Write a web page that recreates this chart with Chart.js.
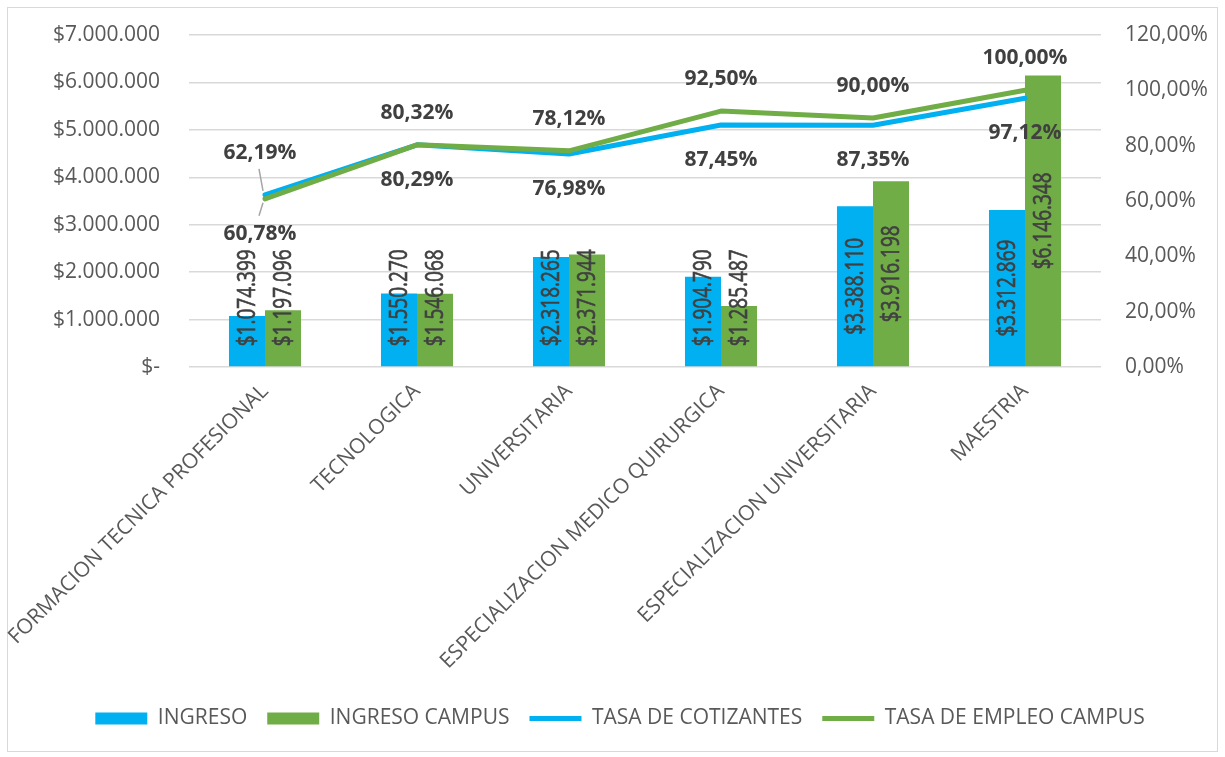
<!DOCTYPE html>
<html>
<head>
<meta charset="utf-8">
<script src="https://cdn.jsdelivr.net/npm/chart.js@4.4.1/dist/chart.umd.min.js"></script>
<style>
  html, body { margin: 0; padding: 0; background: #fff; }
  #box { width: 1225px; height: 757px; }
</style>
</head>
<body>
<div id="box"><canvas id="myChart" width="1225" height="757"></canvas></div>
<script>
// datos de la grafica
var categorias = ["FORMACION TECNICA PROFESIONAL", "TECNOLOGICA", "UNIVERSITARIA", "ESPECIALIZACION MEDICO QUIRURGICA", "ESPECIALIZACION UNIVERSITARIA", "MAESTRIA"];
var ingreso = [1074399, 1550270, 2318265, 1904790, 3388110, 3312869];
var ingreso_campus = [1197096, 1546068, 2371944, 1285487, 3916198, 6146348];
var tasa_cotizantes = [62.19, 80.29, 76.98, 87.45, 87.35, 97.12];
var tasa_empleo = [60.78, 80.32, 78.12, 92.50, 90.00, 100.00];

var azul = "#00b0f0";
var verde = "#70ad47";
var gris_texto = "#595959";
var gris_etiqueta = "#404040";
var fuente = '"Open Sans"';

// formato $1.234.567
function dinero(n) {
  if (n == 0) return "$-";
  return "$" + Math.round(n).toString().replace(/\B(?=(\d{3})+(?!\d))/g, ".");
}
// formato 12,34%
function porcentaje(v) {
  return v.toFixed(2).replace(".", ",") + "%";
}

Chart.defaults.font.family = fuente;

// marco gris alrededor de todo
var marco_plugin = {
  id: "marco",
  beforeDraw: function (chart) {
    var ctx = chart.ctx;
    ctx.save();
    ctx.fillStyle = "#ffffff";
    ctx.fillRect(0, 0, chart.width, chart.height);
    ctx.strokeStyle = "#d9d9d9";
    ctx.lineWidth = 1;
    ctx.strokeRect(7.5, 7.5, 1210, 744);
    ctx.restore();
  }
};

// etiquetas de barras (verticales) y de lineas
var etiquetas_plugin = {
  id: "etiquetas",
  afterDatasetsDraw: function (chart) {
    var ctx = chart.ctx;
    ctx.save();

    [0, 1].forEach(function (di) {
      var meta = chart.getDatasetMeta(di);
      var valores = chart.data.datasets[di].data;
      meta.data.forEach(function (bar, j) {
        var txt = dinero(valores[j]);
        ctx.font = "19px " + fuente;
        var w = ctx.measureText(txt).width;
        var mid = (bar.y + bar.base) / 2;
        var cy = Math.min(mid, bar.base - 20 - w / 2);
        ctx.save();
        ctx.translate(bar.x, cy);
        ctx.rotate(-Math.PI / 2);
        ctx.scale(1, 1.3); // letras un poco mas altas, como en excel
        ctx.textAlign = "center";
        ctx.textBaseline = "middle";
        ctx.fillStyle = gris_etiqueta;
        ctx.strokeStyle = gris_etiqueta;
        ctx.lineWidth = 0.5;
        ctx.fillText(txt, 0, 1);
        ctx.strokeText(txt, 0, 1);
        ctx.restore();
      });
    });

    var m_azul = chart.getDatasetMeta(2);
    var m_verde = chart.getDatasetMeta(3);
    ctx.font = "bold 21px " + fuente;
    ctx.textAlign = "center";
    ctx.textBaseline = "middle";
    for (var j = 0; j < categorias.length; j++) {
      var pa = m_azul.data[j], pv = m_verde.data[j];
      var arriba, abajo, v_arriba, v_abajo;
      if (tasa_cotizantes[j] > tasa_empleo[j]) {
        arriba = pa; abajo = pv; v_arriba = tasa_cotizantes[j]; v_abajo = tasa_empleo[j];
      } else {
        arriba = pv; abajo = pa; v_arriba = tasa_empleo[j]; v_abajo = tasa_cotizantes[j];
      }
      var sep = (j == 0) ? 42 : 32;
      var dx = (j == 0) ? -5 : 0;
      var ya = arriba.y - sep;
      var yb = abajo.y + 35;
      ctx.fillStyle = gris_etiqueta;
      ctx.fillText(porcentaje(v_arriba), arriba.x + dx, ya);
      ctx.fillText(porcentaje(v_abajo), abajo.x + dx, yb);
      if (j == 0) {
        // lineas guia del primer punto
        ctx.strokeStyle = "#a6a6a6";
        ctx.lineWidth = 1.5;
        ctx.beginPath();
        ctx.moveTo(arriba.x - 6, ya + 16);
        ctx.lineTo(arriba.x - 2, arriba.y - 4);
        ctx.moveTo(abajo.x - 2, abajo.y + 4);
        ctx.lineTo(abajo.x - 6, yb - 18);
        ctx.stroke();
      }
    }
    ctx.restore();
  }
};

var ctx = document.getElementById("myChart").getContext("2d");
var grafica = new Chart(ctx, {
  type: "bar",
  data: {
    labels: categorias,
    datasets: [
      {
        type: "bar", label: "INGRESO", data: ingreso, yAxisID: "y",
        backgroundColor: azul, borderColor: azul, borderWidth: 0,
        pointStyle: "rect", order: 2,
        categoryPercentage: 0.474, barPercentage: 1
      },
      {
        type: "bar", label: "INGRESO CAMPUS", data: ingreso_campus, yAxisID: "y",
        backgroundColor: verde, borderColor: verde, borderWidth: 0,
        pointStyle: "rect", order: 2,
        categoryPercentage: 0.474, barPercentage: 1
      },
      {
        type: "line", label: "TASA DE COTIZANTES", data: tasa_cotizantes, yAxisID: "y1",
        borderColor: azul, backgroundColor: azul, borderWidth: 5,
        pointRadius: 0, pointHoverRadius: 0, pointStyle: "line", pointBorderWidth: 5,
        borderCapStyle: "round", borderJoinStyle: "round", tension: 0, order: 1
      },
      {
        type: "line", label: "TASA DE EMPLEO CAMPUS", data: tasa_empleo, yAxisID: "y1",
        borderColor: verde, backgroundColor: verde, borderWidth: 5,
        pointRadius: 0, pointHoverRadius: 0, pointStyle: "line", pointBorderWidth: 5,
        borderCapStyle: "round", borderJoinStyle: "round", tension: 0, order: 0
      }
    ]
  },
  options: {
    responsive: false,
    animation: false,
    layout: { padding: { left: 20, right: 5, top: 35, bottom: 18 } },
    scales: {
      x: {
        offset: true,
        grid: { display: false },
        border: { display: false },
        ticks: {
          font: { size: 21 }, color: gris_texto,
          minRotation: 45, maxRotation: 45, autoSkip: false, padding: 4
        },
        afterFit: function (s) {
          s.height = 321;
          s.paddingLeft = 0;
          s.paddingRight = 0;
        }
      },
      y: {
        position: "left",
        min: 0, max: 7000000,
        grid: { color: "#d9d9d9", lineWidth: 1.5, drawTicks: false },
        border: { display: false },
        ticks: {
          stepSize: 1000000, font: { size: 21 }, color: gris_texto, padding: 29,
          callback: function (v) { return dinero(v); }
        },
        afterFit: function (s) {
          s.width = 169;
          s.paddingTop = 0;
          s.paddingBottom = 0;
        }
      },
      y1: {
        position: "right",
        min: 0, max: 120,
        grid: { display: false, drawTicks: false },
        border: { display: false },
        ticks: {
          stepSize: 20, font: { size: 21 }, color: gris_texto, padding: 24,
          callback: function (v) { return porcentaje(v); }
        },
        afterFit: function (s) {
          s.width = 119;
          s.paddingTop = 0;
          s.paddingBottom = 0;
        }
      }
    },
    plugins: {
      tooltip: { enabled: false },
      legend: {
        position: "bottom",
        labels: {
          font: { size: 21 }, color: gris_texto,
          usePointStyle: true, pointStyleWidth: 52, boxHeight: 12, padding: 20,
          sort: function (a, b) { return a.datasetIndex - b.datasetIndex; }
        }
      }
    }
  },
  plugins: [marco_plugin, etiquetas_plugin]
});
console.log("grafica lista", grafica.chartArea);
</script>
</body>
</html>
